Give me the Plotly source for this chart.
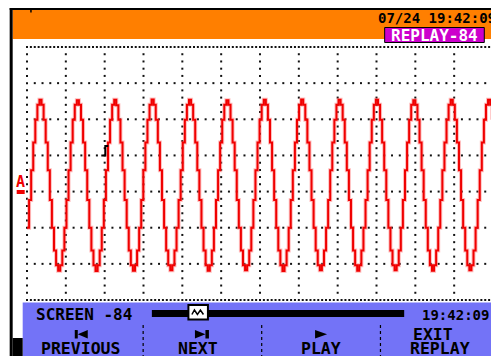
import plotly.graph_objects as go

sample_step_div = 0.05348          # horizontal distance between samples, in divisions
zero_level_div = 3.18              # channel A zero marker, divisions above bottom grid line
grid_x_divisions = 12
grid_y_divisions = 7

# channel A samples, in vertical divisions relative to the A marker
trace_a = [
    -1.18, -0.41, 0.41, 1.18, 1.81, 2.22,
    2.36, 2.22, 1.81, 1.18, 0.41, -0.41, -1.18, -1.81, -2.22, -2.37, -2.22, -1.81, -1.18, -0.41, 0.41, 1.18, 1.81, 2.22,
    2.35, 2.22, 1.81, 1.18, 0.41, -0.41, -1.18, -1.81, -2.22, -2.38, -2.22, -1.81, -1.18, -0.41, 0.41, 1.18, 1.81, 2.22,
    2.36, 2.21, 1.81, 1.18, 0.41, -0.41, -1.18, -1.81, -2.22, -2.37, -2.22, -1.81, -1.18, -0.41, 0.41, 1.18, 1.81, 2.22,
    2.37, 2.22, 1.81, 1.18, 0.41, -0.41, -1.18, -1.81, -2.22, -2.36, -2.22, -1.81, -1.18, -0.41, 0.41, 1.18, 1.81, 2.22,
    2.36, 2.22, 1.81, 1.18, 0.41, -0.41, -1.18, -1.81, -2.22, -2.37, -2.22, -1.81, -1.18, -0.41, 0.41, 1.18, 1.81, 2.22,
    2.35, 2.22, 1.81, 1.18, 0.41, -0.41, -1.18, -1.81, -2.22, -2.36, -2.22, -1.81, -1.18, -0.41, 0.41, 1.18, 1.81, 2.22,
    2.36, 2.22, 1.81, 1.18, 0.41, -0.41, -1.18, -1.81, -2.22, -2.38, -2.22, -1.81, -1.18, -0.41, 0.41, 1.18, 1.81, 2.22,
    2.37, 2.22, 1.81, 1.18, 0.41, -0.41, -1.18, -1.81, -2.22, -2.36, -2.22, -1.81, -1.18, -0.41, 0.41, 1.18, 1.81, 2.22,
    2.36, 2.22, 1.81, 1.18, 0.41, -0.41, -1.18, -1.81, -2.22, -2.37, -2.22, -1.81, -1.18, -0.41, 0.41, 1.18, 1.81, 2.22,
    2.36, 2.22, 1.81, 1.18, 0.41, -0.41, -1.18, -1.81, -2.22, -2.36, -2.22, -1.81, -1.18, -0.41, 0.41, 1.18, 1.81, 2.22,
    2.35, 2.22, 1.81, 1.18, 0.41, -0.41, -1.18, -1.81, -2.22, -2.37, -2.22, -1.81, -1.18, -0.41, 0.41, 1.18, 1.81, 2.22,
    2.36, 2.22, 1.81, 1.18, 0.41, -0.41, -1.18, -1.81, -2.22, -2.36, -2.22, -1.81, -1.18, -0.41, 0.41, 1.18, 1.81, 2.22,
    2.36, 2.22, 1.81,
]

date_label = "07/24 19:42:09"
replay_label = "REPLAY-84"
screen_label = "SCREEN -84"
time_label = "19:42:09"
button_labels = ["PREVIOUS", "NEXT", "PLAY", "EXIT", "REPLAY"]
channel_label = "A"

# ---------------- geometry helpers ----------------
W, H = 499, 356
OFF = 8                      # page offset of the figure (body margin)
ML, MT = 19.3, 39
PW, PH = 465.4, 253
MR = W - ML - PW
MB = H - MT - PH


def X(px):   # page pixel -> paper coordinate
    return (px - OFF - ML) / PW


def Y(py):
    return (MT + PH - (py - OFF)) / PH


FONT = "DejaVu Sans Mono"
y_lo = -zero_level_div
y_hi = grid_y_divisions - zero_level_div

# ---------------- grid dots ----------------
gx, gy = [], []
for k in range(grid_y_divisions + 1):
    yv = y_lo + k
    step = 0.1 if k in (0, grid_y_divisions) else 0.2
    n = int(round(grid_x_divisions / step))
    for i in range(n + 1):
        gx.append(i * step)
        gy.append(yv)
for c in range(grid_x_divisions + 1):
    for j in range(grid_y_divisions * 5 + 1):
        if j % 5 == 0:
            continue
        gx.append(c)
        gy.append(y_lo + j * 0.2)

xs = [i * sample_step_div for i in range(len(trace_a))]

fig = go.Figure()
fig.add_trace(go.Scatter(x=gx, y=gy, mode="markers", cliponaxis=False,
                         marker=dict(size=2, symbol="square", color="#111111", line=dict(width=0)),
                         hoverinfo="skip", showlegend=False))
fig.add_trace(go.Scatter(x=xs, y=trace_a, mode="lines", line_shape="hv",
                         line=dict(color="rgba(255,110,110,0.45)", width=4),
                         hoverinfo="skip", showlegend=False))
fig.add_trace(go.Scatter(x=xs, y=trace_a, mode="lines", line_shape="hv",
                         line=dict(color="#F00000", width=2),
                         showlegend=False, name="A"))

shapes = []


def rect(x0, y0, x1, y1, fill, line_color=None, lw=0, layer="above"):
    shapes.append(dict(type="rect", xref="paper", yref="paper",
                       x0=X(x0), x1=X(x1), y0=Y(y1), y1=Y(y0),
                       fillcolor=fill, layer=layer,
                       line=dict(width=lw, color=line_color or fill)))


def path(points, fill=None, color="black", lw=0, close=True):
    d = "M " + " L ".join(f"{X(a):.5f},{Y(b):.5f}" for a, b in points)
    if close:
        d += " Z"
    shapes.append(dict(type="path", xref="paper", yref="paper", path=d,
                       fillcolor=fill if fill else "rgba(0,0,0,0)",
                       line=dict(width=lw, color=color)))


# header
rect(13, 10, 510, 39, "#FF7F00")
rect(10, 8, 510, 10, "#000000")
rect(10, 8, 13, 370, "#000000")
rect(30.5, 10, 32, 12.5, "#000000")
rect(384.5, 27.5, 484, 42.5, "#CC00CC", "#000000", 1)

# bottom panel
rect(23, 302.5, 510, 370, "#7373F7")
rect(13, 338, 23, 370, "#000000")
rect(152, 310, 404, 317, "#000000")
rect(188.5, 305, 208, 319.5, "#FFFFFF", "#000000", 2)
path([(192, 314.5), (194.5, 310), (197.5, 314.5), (200.5, 310), (203.5, 314.5)],
     color="#000000", lw=1.5, close=False)
for sx in (143.3, 261.7, 380.3):
    shapes.append(dict(type="line", xref="paper", yref="paper",
                       x0=X(sx), x1=X(sx), y0=Y(364), y1=Y(323),
                       line=dict(color="#000000", width=1.2, dash="dot")))
# button icons
rect(75, 330, 78, 338.5, "#000000")
path([(78, 334.2), (88, 330), (88, 338.5)], fill="#000000")
path([(195, 330), (205.5, 334.2), (195, 338.5)], fill="#000000")
rect(205.5, 330, 209, 338.5, "#000000")
path([(315, 330), (327, 334.2), (315, 338.5)], fill="#000000")

# trigger symbol
path([(101.5, 155.5), (105.5, 155.5), (105.5, 146), (108.5, 146)],
     color="#000000", lw=2, close=False)
# channel marker underline
rect(17, 190, 25, 194, "#F00000")

fig.update_layout(shapes=shapes)

ann = []


def text(t, x, y, size, color="#000000", xanchor="center"):
    ann.append(dict(text=f"<b>{t}</b>", x=X(x), y=Y(y), xref="paper", yref="paper",
                    xanchor=xanchor, yanchor="middle", showarrow=False, borderpad=0,
                    font=dict(family=FONT, size=size, color=color)))


text(date_label, 497, 18, 14, xanchor="right")
text(replay_label, 434.5, 35, 16, color="#FFFFFF")
text(channel_label, 21, 182, 15, color="#F00000")
text(channel_label, 494, 125, 14, color="#F00000", xanchor="left")
text(screen_label, 35, 314.5, 16, xanchor="left")
text(time_label, 490, 314.5, 14, xanchor="right")
text(button_labels[0], 81, 348.5, 16.5)
text(button_labels[1], 198.5, 348.5, 16.5)
text(button_labels[2], 320.5, 348.5, 16.5)
text(button_labels[3], 433, 334, 16.5)
text(button_labels[4], 439.5, 348.5, 16.5)

fig.update_layout(
    annotations=ann,
    width=W, height=H,
    margin=dict(l=ML, r=MR, t=MT, b=MB, pad=0),
    paper_bgcolor="#FFFFFF", plot_bgcolor="#FFFFFF",
    xaxis=dict(range=[0, grid_x_divisions], visible=False, fixedrange=True),
    yaxis=dict(range=[y_lo, y_hi], visible=False, fixedrange=True),
    showlegend=False,
)

fig.write_html("out.html")
